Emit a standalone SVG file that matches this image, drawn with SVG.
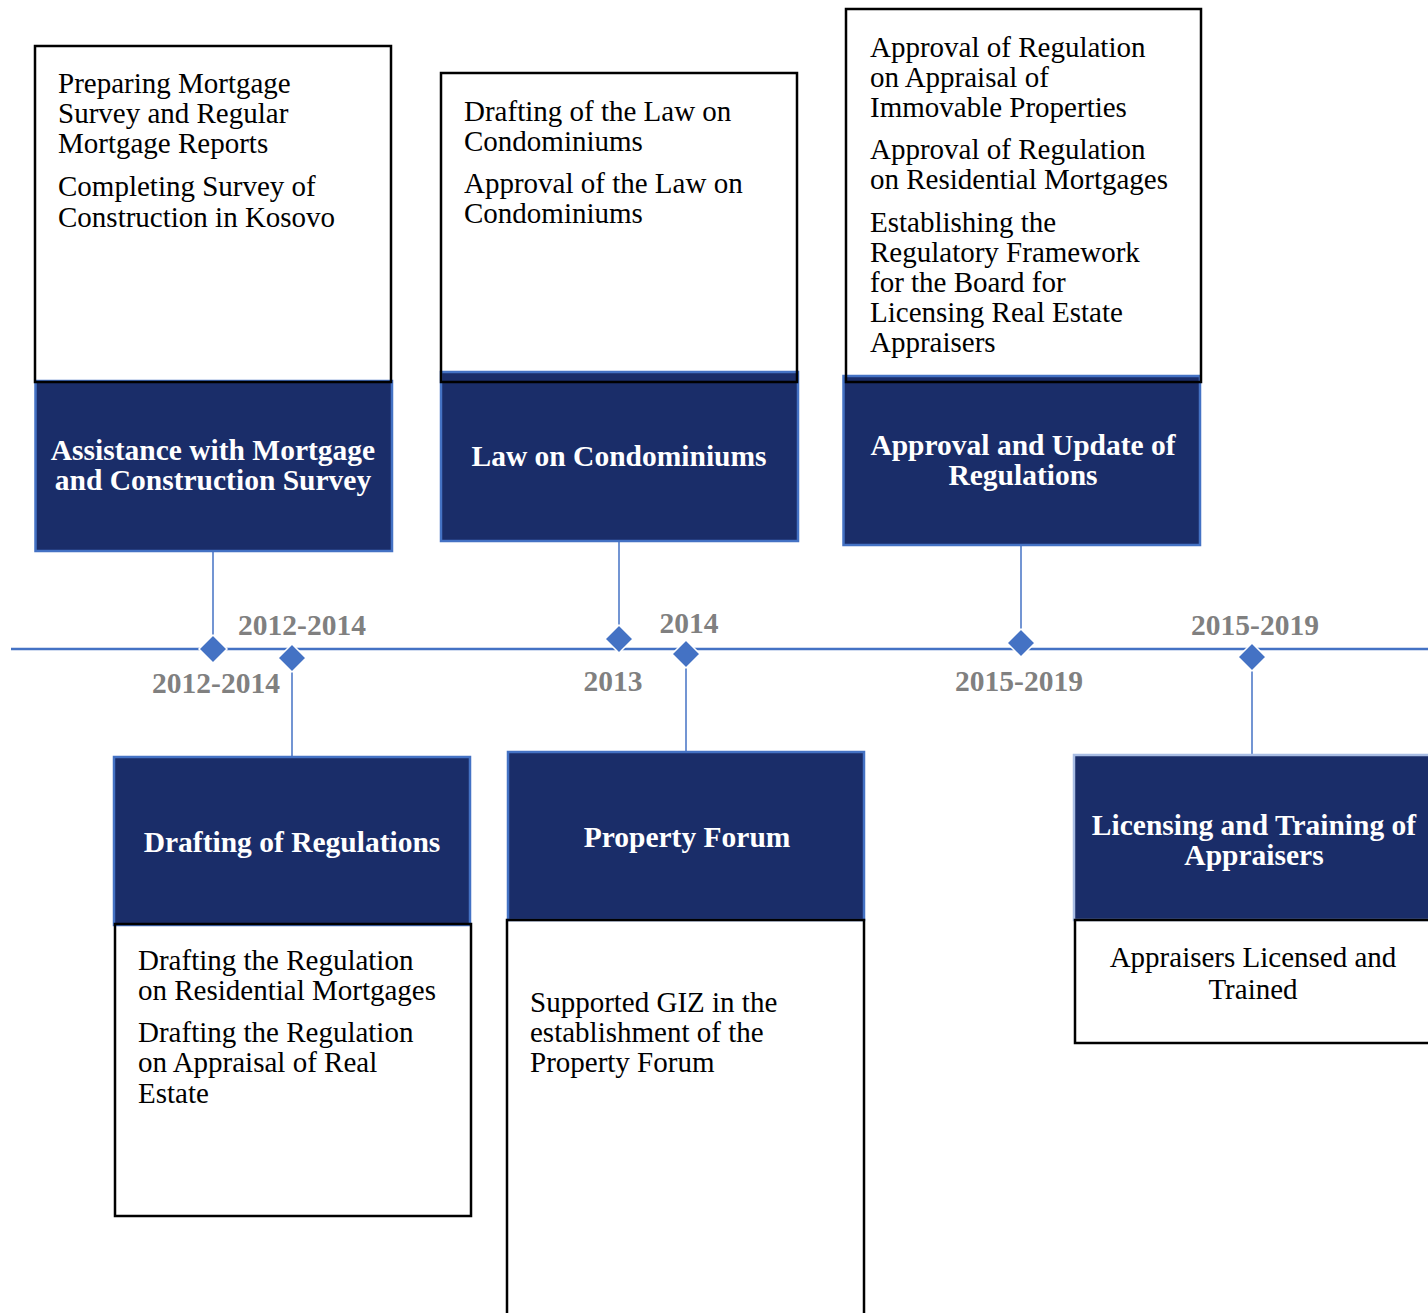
<svg xmlns="http://www.w3.org/2000/svg" width="1428" height="1313" viewBox="0 0 1428 1313">
<style>
.wb{fill:#ffffff;stroke:none}
.ol{fill:none;stroke:#000000;stroke-width:2.5}
.db{fill:#1A2D69;stroke:#4472C4;stroke-width:2.5}
.db2{fill:#1A2D69;stroke:#A9BDE4;stroke-width:2.5}
.title{font-family:"Liberation Serif","Times New Roman",serif;font-weight:bold;font-size:29.5px;fill:#ffffff;text-anchor:middle}
.body{font-family:"Liberation Serif","Times New Roman",serif;font-size:29px;fill:#000000}
.yr{font-family:"Liberation Serif","Times New Roman",serif;font-weight:bold;font-size:29.5px;fill:#808080;text-anchor:middle}
.con{stroke:#4472C4;stroke-width:1.5;fill:none}
.tl{stroke:#4472C4;stroke-width:2.5;fill:none}
.dia{fill:#4472C4;stroke:#ffffff;stroke-width:1.5}
</style>
<rect width="1428" height="1313" fill="#ffffff"/>
<g id="connectors">
<line class="tl" x1="11" y1="649" x2="1428" y2="649"/>
<line class="con" x1="213" y1="552" x2="213" y2="636"/>
<line class="con" x1="292" y1="671" x2="292" y2="757"/>
<line class="con" x1="619" y1="542" x2="619" y2="626"/>
<line class="con" x1="686" y1="667" x2="686" y2="752"/>
<line class="con" x1="1021" y1="545" x2="1021" y2="630"/>
<line class="con" x1="1252" y1="670" x2="1252" y2="755"/>
</g>
<g id="markers">
<polygon class="dia" points="213,635 227,649 213,663 199,649"/>
<polygon class="dia" points="292,644 306,658 292,672 278,658"/>
<polygon class="dia" points="619,625 633,639 619,653 605,639"/>
<polygon class="dia" points="686,640 700,654 686,668 672,654"/>
<polygon class="dia" points="1021,629 1035,643 1021,657 1007,643"/>
<polygon class="dia" points="1252,643 1266,657 1252,671 1238,657"/>
</g>
<g id="years">
<text class="yr" x="302" y="635">2012-2014</text>
<text class="yr" x="216" y="693">2012-2014</text>
<text class="yr" x="689" y="633">2014</text>
<text class="yr" x="613" y="691">2013</text>
<text class="yr" x="1019" y="691">2015-2019</text>
<text class="yr" x="1255" y="635">2015-2019</text>
</g>
<g id="node-mortgage-survey">
<rect class="wb" x="35" y="46" width="356" height="336"/>
<rect class="db" x="35.5" y="381" width="356.5" height="170"/>
<rect class="ol" x="35" y="46" width="356" height="336"/>
<text class="body" x="58"><tspan x="58" y="93">Preparing Mortgage</tspan><tspan x="58" y="123">Survey and Regular</tspan><tspan x="58" y="153">Mortgage Reports</tspan><tspan x="58" y="196">Completing  Survey of</tspan><tspan x="58" y="227">Construction  in  Kosovo</tspan></text>
<text class="title"><tspan x="213" y="460">Assistance with Mortgage</tspan><tspan x="213" y="490">and Construction Survey</tspan></text>
</g>
<g id="node-condominiums">
<rect class="wb" x="441" y="73" width="356" height="309"/>
<rect class="db" x="441" y="372" width="357" height="169"/>
<rect class="ol" x="441" y="73" width="356" height="309"/>
<text class="body"><tspan x="464" y="121">Drafting of the Law on</tspan><tspan x="464" y="151">Condominiums</tspan><tspan x="464" y="193">Approval of the Law on</tspan><tspan x="464" y="223">Condominiums</tspan></text>
<text class="title" x="619" y="466">Law on Condominiums</text>
</g>
<g id="node-regulations-update">
<rect class="wb" x="846" y="9" width="355" height="373"/>
<rect class="db" x="843.5" y="376" width="356.5" height="169"/>
<rect class="ol" x="846" y="9" width="355" height="373"/>
<text class="body"><tspan x="870" y="57">Approval of Regulation</tspan><tspan x="870" y="87">on Appraisal of</tspan><tspan x="870" y="117">Immovable Properties</tspan><tspan x="870" y="159">Approval of Regulation</tspan><tspan x="870" y="189">on Residential Mortgages</tspan><tspan x="870" y="232">Establishing  the</tspan><tspan x="870" y="262">Regulatory Framework</tspan><tspan x="870" y="292">for the Board for</tspan><tspan x="870" y="322">Licensing Real Estate</tspan><tspan x="870" y="352">Appraisers</tspan></text>
<text class="title"><tspan x="1023" y="455">Approval and Update of</tspan><tspan x="1023" y="485">Regulations</tspan></text>
</g>
<g id="node-drafting-regulations">
<rect class="wb" x="115" y="924" width="356" height="292"/>
<rect class="db" x="114" y="757" width="356" height="168"/>
<rect class="ol" x="115" y="924" width="356" height="292"/>
<text class="body"><tspan x="138" y="970">Drafting the Regulation</tspan><tspan x="138" y="1000">on Residential Mortgages</tspan><tspan x="138" y="1042">Drafting the Regulation</tspan><tspan x="138" y="1072">on Appraisal of Real</tspan><tspan x="138" y="1103">Estate</tspan></text>
<text class="title" x="292" y="852">Drafting of Regulations</text>
</g>
<g id="node-property-forum">
<rect class="wb" x="507" y="920" width="357" height="400"/>
<rect class="db" x="508" y="752" width="356" height="168"/>
<rect class="ol" x="507" y="920" width="357" height="400"/>
<text class="body"><tspan x="530" y="1012">Supported GIZ in the</tspan><tspan x="530" y="1042">establishment of the</tspan><tspan x="530" y="1072">Property Forum</tspan></text>
<text class="title" x="687" y="847">Property Forum</text>
</g>
<g id="node-licensing">
<rect class="wb" x="1075" y="920" width="360" height="123"/>
<rect class="db2" x="1074" y="755" width="360" height="165"/>
<rect class="ol" x="1075" y="920" width="360" height="123"/>
<text class="body" text-anchor="middle"><tspan x="1253" y="967">Appraisers Licensed and</tspan><tspan x="1253" y="999">Trained</tspan></text>
<text class="title"><tspan x="1254" y="835">Licensing and Training of</tspan><tspan x="1254" y="865">Appraisers</tspan></text>
</g>
</svg>
